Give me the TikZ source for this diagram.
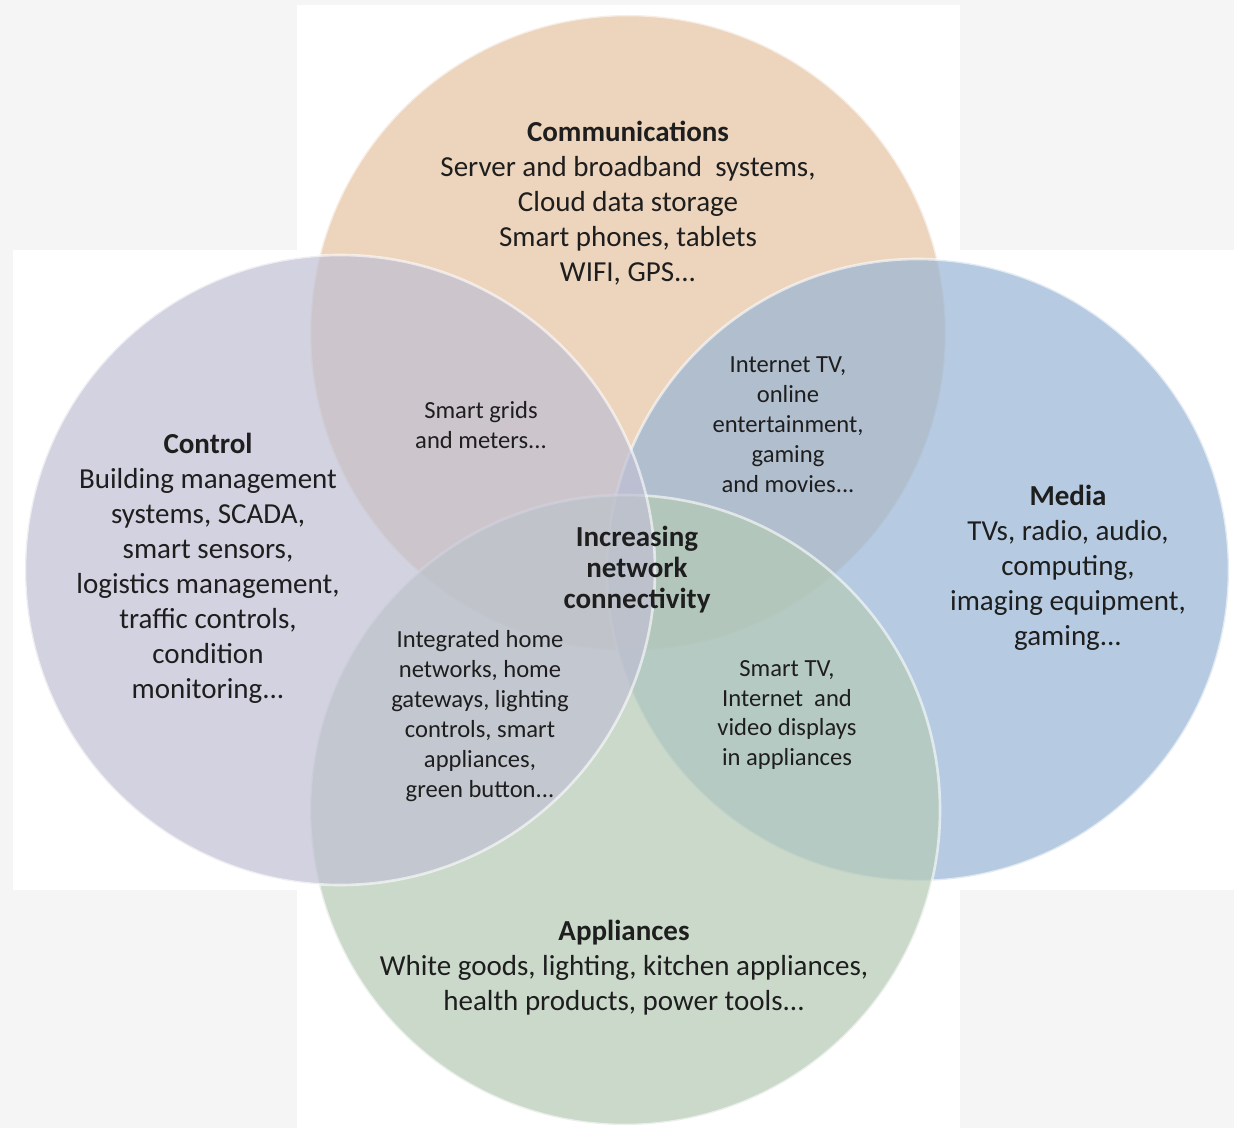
\documentclass[tikz,border=0pt]{standalone}
\usepackage{fontspec}
\setmainfont{Carlito}
\definecolor{bggray}{RGB}{245,245,245}
\definecolor{commcol}{RGB}{228,195,162}
\definecolor{ctrlcol}{RGB}{192,192,211}
\definecolor{mediacol}{RGB}{152,181,214}
\definecolor{applcol}{RGB}{181,202,181}
\definecolor{txtcol}{RGB}{30,30,30}
\begin{document}
\begin{tikzpicture}[x=0.02cm, y=-0.02cm,
  venn/.style={fill opacity=0.7, draw=white, draw opacity=0.6, line width=1.5pt},
  big/.style={align=center, inner sep=0pt, text=txtcol, font=\fontsize{16.5}{19.9}\selectfont},
  small/.style={align=center, inner sep=0pt, text=txtcol, font=\fontsize{14}{17.07}\selectfont}]
\useasboundingbox (0,0) rectangle (1234,1128);
% background cross
\fill [bggray] (0,0) rectangle (1234,1128);
\fill [white] (297,5) rectangle (960,1128);
\fill [white] (13,250) rectangle (1234,890);
% circles
\filldraw [venn, fill=commcol] (628,333) circle (318);
\filldraw [venn, fill=mediacol] (918,570) circle (311);
\filldraw [venn, fill=applcol] (625,810) circle (315);
\filldraw [venn, fill=ctrlcol] (340,570) circle (315);
% labels
\node [big] (comm) at (628,203) {\textbf{Communications}\\Server and broadband\ \ systems,\\Cloud data storage\\Smart phones, tablets\\WIFI, GPS...};
\node [big] (ctrl) at (208,568) {\textbf{Control}\\Building management\\systems, SCADA,\\smart sensors,\\logistics management,\\traffic controls,\\condition\\monitoring...};
\node [big] (media) at (1068,568) {\textbf{Media}\\TVs, radio, audio,\\computing,\\imaging equipment,\\gaming...};
\node [big] (appl) at (624,968) {\textbf{Appliances}\\White goods, lighting, kitchen appliances,\\health products, power tools...};
\node [small] (grids) at (481,425) {Smart grids\\and meters...};
\node [small] (itv) at (788,425) {Internet TV,\\online\\entertainment,\\gaming\\and movies...};
\node [big, font=\fontsize{16.5}{17.6}\selectfont\bfseries] (core) at (637,570) {Increasing\\network\\connectivity};
\node [small] (home) at (480,716) {Integrated home\\networks, home\\gateways, lighting\\controls, smart\\appliances,\\green button...};
\node [small] (stv) at (787,715) {Smart TV,\\Internet\ \ and\\video displays\\in appliances};
\end{tikzpicture}
\end{document}
